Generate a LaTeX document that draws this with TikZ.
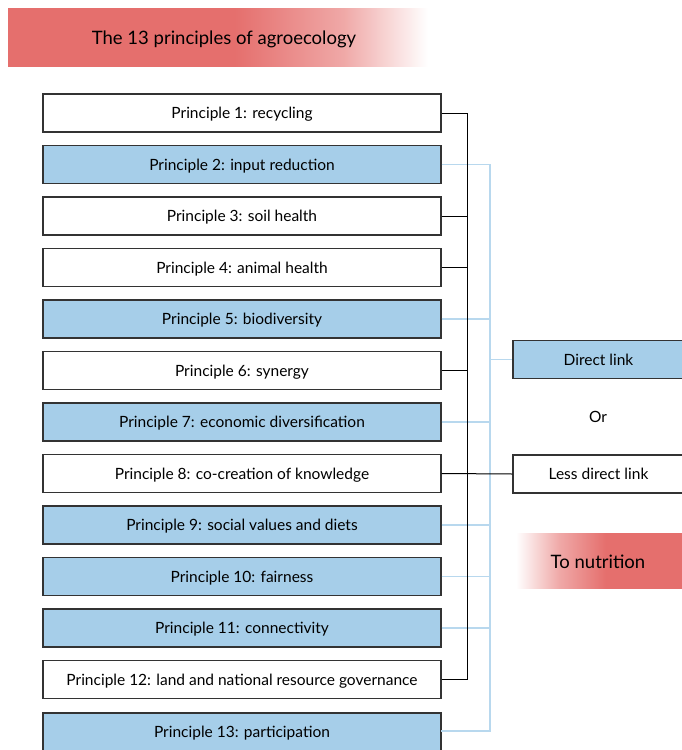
\documentclass[tikz,border=0pt]{standalone}
\usepackage{fontspec}
\setmainfont{Lato}
\usetikzlibrary{calc}
\definecolor{boxblue}{RGB}{166,206,233}
\definecolor{lineblue}{RGB}{184,216,238}
\definecolor{bannerred}{RGB}{229,111,109}
\pgfdeclarehorizontalshading{fadeout}{100bp}{color(0bp)=(bannerred); color(25bp)=(bannerred); color(52bp)=(bannerred); color(65bp)=(bannerred!60!white); color(75bp)=(white); color(100bp)=(white)}
\pgfdeclarehorizontalshading{fadein}{100bp}{color(0bp)=(white); color(25bp)=(white); color(38bp)=(bannerred!60!white); color(52bp)=(bannerred); color(75bp)=(bannerred); color(100bp)=(bannerred)}
\tikzset{
	boxtext/.style={font=\fontsize{15.5}{18}\selectfont, text height=11pt, text depth=0pt},
	plainbox/.style={boxtext, draw=black!80, line width=1.3pt, fill=white, minimum width=398pt, minimum height=38pt, inner sep=0pt},
	bluebox/.style={plainbox, fill=boxblue},
	blackbus/.style={draw=black, line width=1pt},
	bluebus/.style={draw=lineblue, line width=1.6pt},
	bannerfont/.style={font=\fontsize{18.5}{22}\selectfont, text height=13pt, text depth=0pt},
}

\begin{document}
\begin{tikzpicture}[x=1pt, y=-1pt]
		%%%%% START %%%%%
		\useasboundingbox (0, 0) rectangle (682, 750);
		
		% banners
		\shade[shading=fadeout] (8, 8) rectangle (428, 66);
		\node[bannerfont] (title) at (224, 38) {The 13 principles of agroecology};
		
		\shade[shading=fadein] (516, 533) rectangle (682, 588);
		\node[bannerfont] (nutrition) at (598, 562) {To nutrition};
		
		% principles
		\node[plainbox] (p1) at (242, 113) {Principle 1: recycling};
		\node[bluebox] (p2) at (242, 164.5) {Principle 2: input reduction};
		\node[plainbox] (p3) at (242, 216) {Principle 3: soil health};
		\node[plainbox] (p4) at (242, 267.5) {Principle 4: animal health};
		\node[bluebox] (p5) at (242, 319) {Principle 5: biodiversity};
		\node[plainbox] (p6) at (242, 370.5) {Principle 6: synergy};
		\node[bluebox] (p7) at (242, 422) {Principle 7: economic diversification};
		\node[plainbox] (p8) at (242, 473.5) {Principle 8: co-creation of knowledge};
		\node[bluebox] (p9) at (242, 525) {Principle 9: social values and diets};
		\node[bluebox] (p10) at (242, 576.5) {Principle 10: fairness};
		\node[bluebox] (p11) at (242, 628) {Principle 11: connectivity};
		\node[plainbox] (p12) at (242, 679.5) {Principle 12: land and national resource governance};
		\node[bluebox] (p13) at (242, 732) {Principle 13: participation};
		
		% legend
		\node[bluebox, minimum width=171pt] (direct) at (598.5, 359.5) {Direct link};
		\node[boxtext] (or) at (598, 417) {Or};
		\node[plainbox, minimum width=171pt] (lessdirect) at (598.5, 474) {Less direct link};
		
		% blue connectors
		\draw[bluebus] (p2.east) -- (490, 164.5) -- (490, 731) -- (441, 731);
		\draw[bluebus] (p5.east) -- (490, 319);
		\draw[bluebus] (p7.east) -- (490, 422);
		\draw[bluebus] (p9.east) -- (490, 525);
		\draw[bluebus] (p10.east) -- (490, 576.5);
		\draw[bluebus] (p11.east) -- (490, 628);
		\draw[bluebus] (490, 359.5) -- (direct.west);
		
		% black connectors
		\draw[blackbus] (p1.east) -- (467, 113) -- (467, 679.5) -- (p12.east);
		\draw[blackbus] (p3.east) -- (467, 216);
		\draw[blackbus] (p4.east) -- (467, 267.5);
		\draw[blackbus] (p6.east) -- (467, 370.5);
		\draw[blackbus] (p8.east) -- (lessdirect.west);
		%%%%% END %%%%%
	\end{tikzpicture}
\end{document}
